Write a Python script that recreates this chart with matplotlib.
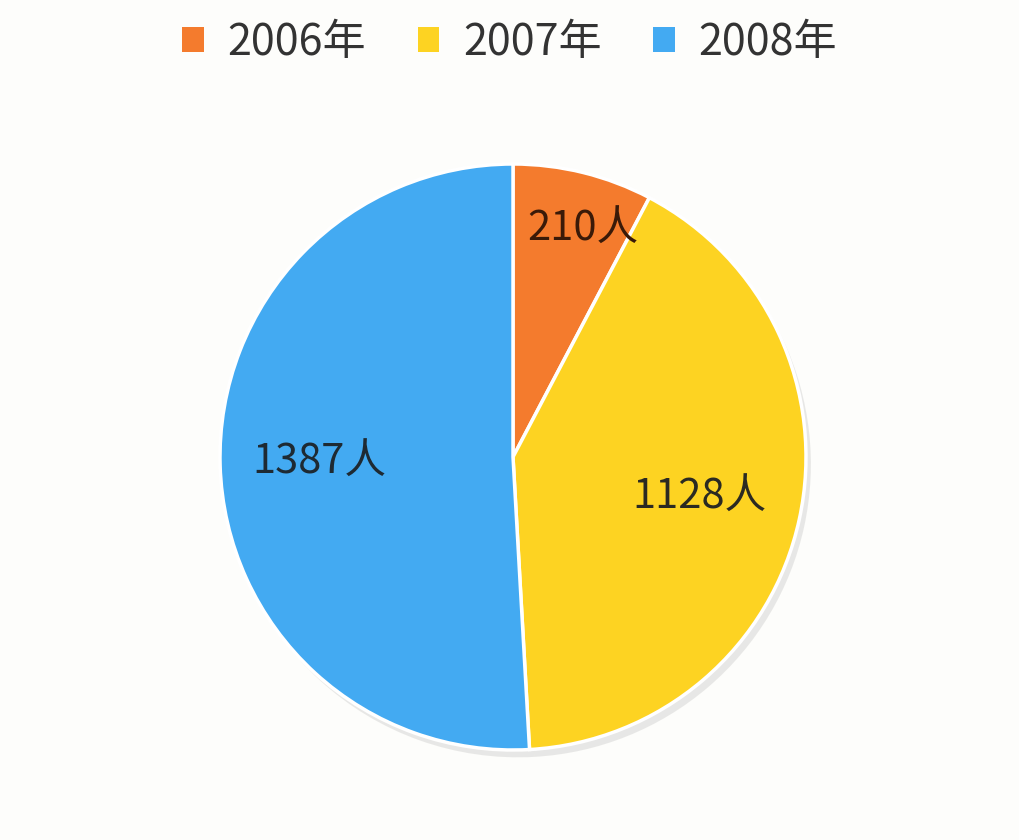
import numpy as np
import matplotlib
matplotlib.use("Agg")
import matplotlib.pyplot as plt
from matplotlib.patches import Patch

plt.rcParams['font.family'] = ['Noto Sans CJK SC', 'DejaVu Sans']

categories = ['2006年', '2007年', '2008年']
values = [210, 1128, 1387]
value_labels = ['210人', '1128人', '1387人']
colors = ['#F47B2D', '#FDD322', '#43AAF2']

W, H = 1019, 840
fig = plt.figure(figsize=(W / 100, H / 100), dpi=100, facecolor='#FDFDFB')

cx, cy, r = 513, 457, 293
ax = fig.add_axes([(cx - r) / W, (H - cy - r) / H, 2 * r / W, 2 * r / H])
ax.set_facecolor('none')

wedges, _ = ax.pie(values, colors=colors, startangle=90, counterclock=False,
                   radius=1.0,
                   wedgeprops=dict(edgecolor='white', linewidth=2.5),
                   shadow=dict(ox=0.012, oy=-0.018, facecolor='#7a7a7a',
                               edgecolor='none', alpha=0.16))
ax.set_xlim(-1, 1)
ax.set_ylim(-1, 1)
ax.set_aspect('equal')
ax.axis('off')

label_r = [0.80, 0.65, 0.66]
label_dx = [14, 0, 0]  # pixel nudges
text_colors = ['#3A1A08', '#2B2A22', '#1E2A33']
for w, lab, rr, dx, tc in zip(wedges, value_labels, label_r, label_dx, text_colors):
    ang = np.deg2rad((w.theta1 + w.theta2) / 2)
    ax.annotate(lab, (rr * np.cos(ang), rr * np.sin(ang)),
                xytext=(dx, 0), textcoords='offset pixels',
                ha='center', va='center', fontsize=30, fontweight='medium', color=tc)

handles = [Patch(facecolor=c, edgecolor='none') for c in colors]
fig.legend(handles, categories, loc='center', bbox_to_anchor=(0.5, 1 - 43 / H),
           ncol=3, frameon=False, fontsize=31, labelcolor='#333333',
           handlelength=0.5, handleheight=0.5, handletextpad=0.55,
           columnspacing=1.2)

fig.savefig('out.png', dpi=100, facecolor=fig.get_facecolor())
